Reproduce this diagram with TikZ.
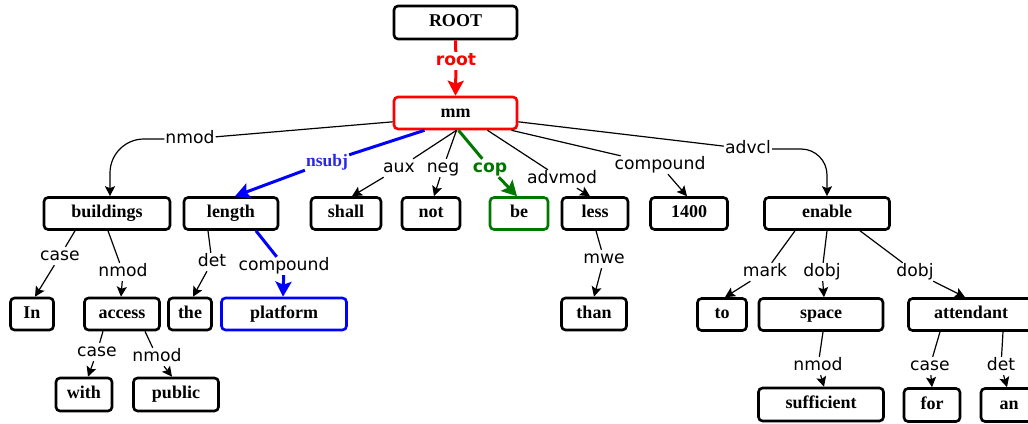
\documentclass[tikz,border=0pt]{standalone}
\usepackage{fontspec}
\setmainfont{Liberation Serif}
\newfontfamily\lblfont{DejaVu Sans}
\usetikzlibrary{arrows.meta,calc}
\definecolor{dgreen}{RGB}{0,120,0}
\definecolor{nblue}{RGB}{40,40,230}
\begin{document}
\begin{tikzpicture}[x=1pt,y=1pt,
  wbox/.style={draw, line width=2.6pt, rounded corners=4pt, minimum height=32pt,
    inner sep=0pt, fill=white, font=\bfseries\fontsize{18}{20}\selectfont,
    text height=11.5pt, text depth=3pt},
  lbl/.style={fill=white, inner sep=1pt, font=\lblfont\fontsize{17.2}{20}\selectfont,
    text height=12.5pt, text depth=3.5pt},
  depline/.style={line width=1.2pt},
  dep/.style={depline, -{Stealth[length=10pt,width=10pt,inset=2pt]}},
  bigdep/.style={line width=3pt, -{Stealth[length=15pt,width=16pt,inset=3pt]}}
]
\useasboundingbox (0,0) rectangle (1028,-423);
% nodes
\node[wbox, minimum width=123pt, minimum height=33pt] (ROOT) at (455.5,-22.5) {ROOT};
\node[wbox, minimum width=123pt, draw=red] (mm) at (455.5,-113) {mm};
\node[wbox, minimum width=126pt] (buildings) at (107,-213.5) {buildings};
\node[wbox, minimum width=94pt] (length) at (231,-213.5) {length};
\node[wbox, minimum width=70pt] (shall) at (346,-213.5) {shall};
\node[wbox, minimum width=58pt] (not) at (431,-213.5) {not};
\node[wbox, minimum width=58pt, draw=dgreen] (be) at (519,-213.5) {be};
\node[wbox, minimum width=66pt] (less) at (595,-213.5) {less};
\node[wbox, minimum width=77pt] (n1400) at (689,-213.5) {1400};
\node[wbox, minimum width=125pt] (enable) at (827,-213.5) {enable};
\node[wbox, minimum width=43pt] (In) at (32,-314) {In};
\node[wbox, minimum width=75pt] (access) at (122,-314) {access};
\node[wbox, minimum width=43pt] (the) at (190,-314) {the};
\node[wbox, minimum width=125pt, draw=blue] (platform) at (284,-314) {platform};
\node[wbox, minimum width=65pt] (than) at (594,-314) {than};
\node[wbox, minimum width=49pt] (to) at (722,-314.5) {to};
\node[wbox, minimum width=124pt] (space) at (821,-314.5) {space};
\node[wbox, minimum width=125pt] (attendant) at (971,-314.5) {attendant};
\node[wbox, minimum width=56pt, minimum height=33pt] (with) at (84,-394.5) {with};
\node[wbox, minimum width=85pt, minimum height=33pt] (public) at (176,-394.5) {public};
\node[wbox, minimum width=125pt, minimum height=33pt] (sufficient) at (821,-404.5) {sufficient};
\node[wbox, minimum width=56pt, minimum height=33pt] (for) at (932,-405) {for};
\node[wbox, minimum width=56pt, minimum height=33pt] (an) at (1009,-405) {an};
% labels
\node[lbl, text=red, font=\lblfont\bfseries\fontsize{17.2}{20}\selectfont] (lroot) at (456,-61) {root};
\node[lbl] (lnmodA) at (190,-139) {nmod};
\node[lbl, text=nblue, font=\bfseries\fontsize{17.5}{20}\selectfont] (lnsubj) at (327,-162) {nsubj};
\node[lbl] (laux) at (399,-168) {aux};
\node[lbl] (lneg) at (443,-168) {neg};
\node[lbl, text=dgreen, font=\lblfont\bfseries\fontsize{17.2}{20}\selectfont] (lcop) at (490,-168) {cop};
\node[lbl] (ladvmod) at (562,-179) {advmod};
\node[lbl] (lcompA) at (660,-165) {compound};
\node[lbl] (ladvcl) at (748,-149) {advcl};
\node[lbl] (lcaseA) at (60,-256) {case};
\node[lbl] (lnmodB) at (123,-272) {nmod};
\node[lbl] (ldet) at (212,-262) {det};
\node[lbl] (lcompB) at (284,-266) {compound};
\node[lbl] (lcaseB) at (97,-352) {case};
\node[lbl] (lnmodC) at (157,-357) {nmod};
\node[lbl] (lmwe) at (604,-259) {mwe};
\node[lbl] (lmark) at (765,-272) {mark};
\node[lbl] (ldobjA) at (822,-272) {dobj};
\node[lbl] (ldobjB) at (915,-272) {dobj};
\node[lbl] (lnmodD) at (818,-366) {nmod};
\node[lbl] (lcaseC) at (930,-366) {case};
\node[lbl] (ldetB) at (1001,-366) {det};
% edges
\draw[bigdep, red] (ROOT.south) -- (lroot) -- (mm.north);
\draw[depline] (mm.188) -- (lnmodA);
\draw[dep, rounded corners=34pt] (lnmodA.west) -| ($(buildings.north)+(3,0)$);
\draw[bigdep, blue] ($(mm.south)+(-31,0)$) -- (lnsubj) -- ($(length.north)+(4,0)$);
\draw[dep] ($(mm.south)+(1,0)$) -- (laux) -- ($(shall.north)+(6,0)$);
\draw[dep] ($(mm.south)+(1,0)$) -- (lneg) -- ($(not.north)+(3,0)$);
\draw[bigdep, dgreen] ($(mm.south)+(3,0)$) -- (lcop) -- ($(be.north)+(-2,0)$);
\draw[dep] ($(mm.south)+(32,0)$) -- (ladvmod) -- ($(less.north)+(-5,0)$);
\draw[dep] ($(mm.south)+(56,0)$) -- (lcompA) -- ($(n1400.north)+(-2,0)$);
\draw[depline] (mm.-8) -- (ladvcl);
\draw[dep, rounded corners=26pt] (ladvcl.east) -| (enable.north);
\draw[dep] ($(buildings.south)+(-32,0)$) -- (lcaseA) -- ($(In.north)+(3,0)$);
\draw[dep] ($(buildings.south)+(1,0)$) -- (lnmodB) -- ($(access.north)+(-1,0)$);
\draw[dep] ($(length.south)+(-23,0)$) -- (ldet) -- ($(the.north)+(3,0)$);
\draw[bigdep, blue] ($(length.south)+(25,0)$) -- (lcompB) -- ($(platform.north)+(-1,0)$);
\draw[dep] ($(access.south)+(-19,0)$) -- (lcaseB) -- ($(with.north)+(4,0)$);
\draw[dep] ($(access.south)+(23,0)$) -- (lnmodC) -- ($(public.north)+(-4,0)$);
\draw[dep] ($(less.south)+(1,0)$) -- (lmwe) -- (than.north);
\draw[dep] ($(enable.south)+(-32,0)$) -- (lmark) -- ($(to.north)+(3,0)$);
\draw[dep] (enable.south) -- (ldobjA) -- ($(space.north)+(3,0)$);
\draw[dep] ($(enable.south)+(33,0)$) -- (ldobjB) -- ($(attendant.north)+(-6,0)$);
\draw[dep] ($(space.south)+(2,0)$) -- (lnmodD) -- ($(sufficient.north)+(3,0)$);
\draw[dep] ($(attendant.south)+(-31,0)$) -- (lcaseC) -- (for.north);
\draw[dep] ($(attendant.south)+(32,0)$) -- (ldetB) -- ($(an.north)+(-2,0)$);
\end{tikzpicture}
\end{document}
